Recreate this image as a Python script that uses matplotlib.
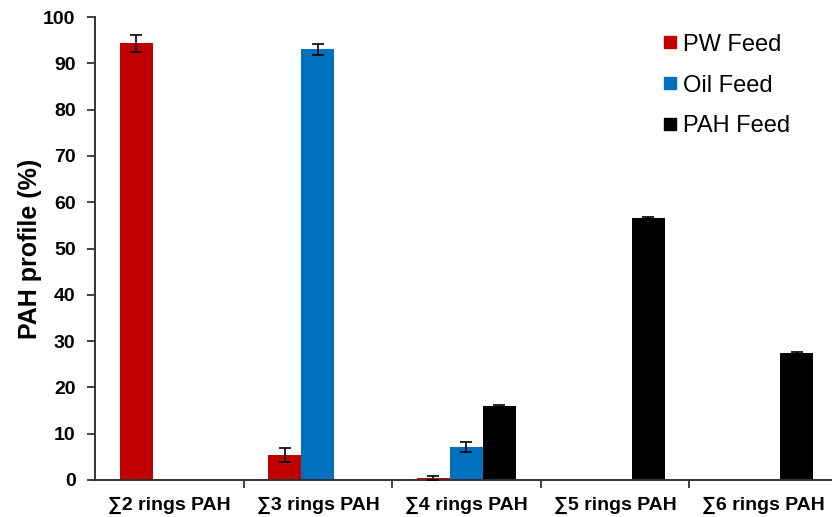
import numpy as np
import matplotlib
matplotlib.use("Agg")
import matplotlib.pyplot as plt
from matplotlib.lines import Line2D

plt.rcParams['font.family'] = ['Liberation Sans', 'DejaVu Sans']

# PAH ring-class distribution for each feed
categories = ["\u22112 rings PAH", "\u22113 rings PAH", "\u22114 rings PAH",
              "\u22115 rings PAH", "\u22116 rings PAH"]
series = ["PW Feed", "Oil Feed", "PAH Feed"]
pw_feed = [94.3, 5.4, 0.4, 0.0, 0.0]
pw_err = [1.8, 1.6, 0.5, 0.0, 0.0]
oil_feed = [0.0, 93.0, 7.1, 0.0, 0.0]
oil_err = [0.0, 1.1, 1.1, 0.0, 0.0]
pah_feed = [0.0, 0.0, 16.0, 56.5, 27.4]
pah_err = [0.0, 0.0, 0.2, 0.3, 0.2]
colors = ["#C00000", "#0070C0", "#000000"]

values = [pw_feed, oil_feed, pah_feed]
errors = [pw_err, oil_err, pah_err]

fig = plt.figure(figsize=(8.32, 5.17), dpi=100)
ax = fig.add_axes([95 / 832, 37 / 517, 737 / 832, 463 / 517])

x = np.arange(len(categories))
w = 0.222
for i, (vals, errs, c) in enumerate(zip(values, errors, colors)):
    pos = x + (i - 1) * w
    ax.bar(pos, vals, width=w, color=c, zorder=2)
    vals = np.array(vals)
    errs = np.array(errs)
    m = vals > 0
    ax.errorbar(pos[m], vals[m], yerr=errs[m], fmt='none', ecolor='black',
                elinewidth=1.2, capsize=4, capthick=1.2, zorder=3)

ax.set_xlim(-0.5, 4.46)
ax.set_ylim(0, 100)
ax.set_yticks(np.arange(0, 101, 10))
ax.set_ylabel("PAH profile (%)", fontsize=18, fontweight='bold', labelpad=1)

# category labels centred, tick marks between groups
ax.set_xticks(x)
ax.set_xticklabels(categories, fontsize=14, fontweight='bold')
ax.tick_params(axis='x', length=0, pad=12)
ax.set_xticks(np.arange(0.5, 4.5, 1), minor=True)
ax.tick_params(axis='x', which='minor', length=6, width=1.3, color='#333333')
ax.tick_params(axis='y', length=6, width=1.3, color='#333333', labelsize=14,
               pad=8)
for lbl in ax.get_yticklabels():
    lbl.set_fontweight('bold')

for s in ['top', 'right']:
    ax.spines[s].set_visible(False)
for s in ['left', 'bottom']:
    ax.spines[s].set_linewidth(1.4)
    ax.spines[s].set_color('#333333')

handles = [Line2D([], [], marker='s', linestyle='none', markersize=8.5,
                  markerfacecolor=c, markeredgecolor=c) for c in colors]
ax.legend(handles, series, loc='upper right', bbox_to_anchor=(0.972, 1.01),
          frameon=False, fontsize=17, handlelength=0.6, handletextpad=0.25,
          labelspacing=0.8)

fig.savefig("out.png", dpi=100)
